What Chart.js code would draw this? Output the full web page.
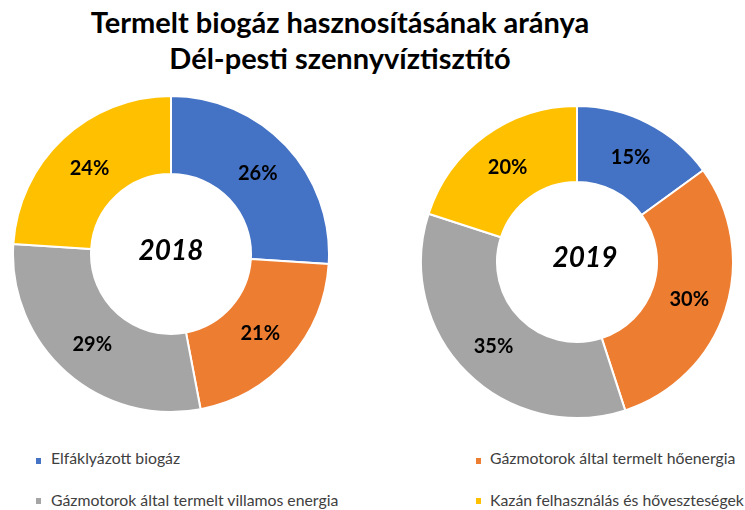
<!DOCTYPE html>
<html>
<head>
<meta charset="utf-8">
<script src="https://cdn.jsdelivr.net/npm/chart.js@4/dist/chart.umd.min.js"></script>
<style>
  html, body { margin: 0; padding: 0; background: #fff; }
  #wrap { position: relative; width: 745px; height: 510px; overflow: hidden; background: #fff; }
  .title { position: absolute; left: 0; width: 680px; text-align: center; font-family: Lato, "Open Sans", sans-serif; font-weight: 700; font-size: 29px; color: #000; white-space: nowrap; line-height: 1; }
  .leg { position: absolute; font-family: Lato, "Open Sans", sans-serif; font-size: 15.8px; color: #404040; white-space: nowrap; line-height: 1; }
  .sw { position: absolute; width: 5px; height: 6px; }
  canvas { position: absolute; }
</style>
</head>
<body>
<div id="wrap">
  <div class="title" id="t1" style="top:7px;"></div>
  <div class="title" id="t2" style="top:43px;"></div>
  <canvas id="c2018" width="318" height="318" style="left:12px; top:95px; width:318px; height:318px;"></canvas>
  <canvas id="c2019" width="314" height="314" style="left:420px; top:105px; width:314px; height:314px;"></canvas>
  <div id="legend"></div>
</div>
<script>
const titleLines = ['Termelt biogáz hasznosításának aránya', 'Dél-pesti szennyvíztisztító'];
const categories = ['Elfáklyázott biogáz', 'Gázmotorok által termelt hőenergia', 'Gázmotorok által termelt villamos energia', 'Kazán felhasználás és hőveszteségek'];
const years = ['2018', '2019'];
const values2018 = [26, 21, 29, 24];
const values2019 = [15, 30, 35, 20];
const colors = ['#4472C4', '#ED7D31', '#A5A5A5', '#FFC000'];

document.getElementById('t1').textContent = titleLines[0];
document.getElementById('t2').textContent = titleLines[1];

// legend (HTML text)
const legPos = [
  {sx: 36, sy: 458, tx: 51, ty: 450},
  {sx: 476, sy: 458, tx: 490, ty: 450},
  {sx: 36, sy: 498, tx: 51, ty: 492},
  {sx: 476, sy: 498, tx: 490, ty: 492}
];
const legend = document.getElementById('legend');
categories.forEach((c, i) => {
  const sw = document.createElement('div');
  sw.className = 'sw';
  sw.style.left = legPos[i].sx + 'px';
  sw.style.top = legPos[i].sy + 'px';
  sw.style.background = colors[i];
  legend.appendChild(sw);
  const t = document.createElement('div');
  t.className = 'leg';
  t.style.left = legPos[i].tx + 'px';
  t.style.top = legPos[i].ty + 'px';
  t.textContent = c;
  legend.appendChild(t);
});

const labelPlugin = {
  id: 'labelPlugin',
  afterDatasetsDraw(chart, args, opts) {
    const ctx = chart.ctx;
    const meta = chart.getDatasetMeta(0);
    const data = chart.data.datasets[0].data;
    const total = data.reduce((a, b) => a + b, 0);
    ctx.save();
    ctx.fillStyle = '#000';
    ctx.textAlign = 'center';
    ctx.textBaseline = 'middle';
    ctx.font = 'bold 20px Lato, "Open Sans", sans-serif';
    meta.data.forEach((arc, i) => {
      const p = arc.tooltipPosition();
      ctx.fillText(Math.round(data[i] / total * 100) + '%', p.x, p.y + 1);
    });
    const a0 = meta.data[0];
    ctx.font = 'italic bold 28px Lato, "Open Sans", sans-serif';
    ctx.fillText(opts.center, a0.x + (opts.dx || 0), a0.y + (opts.dy || 0));
    ctx.restore();
  }
};

function makeChart(id, values, year, dx, dy) {
  return new Chart(document.getElementById(id), {
    type: 'doughnut',
    data: {
      labels: categories,
      datasets: [{
        data: values,
        backgroundColor: colors,
        borderColor: '#ffffff',
        borderWidth: 2,
        hoverOffset: 0
      }]
    },
    options: {
      responsive: false,
      animation: false,
      cutout: 80,
      layout: { padding: 0 },
      plugins: {
        legend: { display: false },
        tooltip: { enabled: false },
        title: { display: false },
        labelPlugin: { center: year, dx: dx, dy: dy }
      }
    },
    plugins: [labelPlugin]
  });
}

makeChart('c2018', values2018, years[0], 0, -3);
makeChart('c2019', values2019, years[1], 8, -4);
</script>
</body>
</html>
